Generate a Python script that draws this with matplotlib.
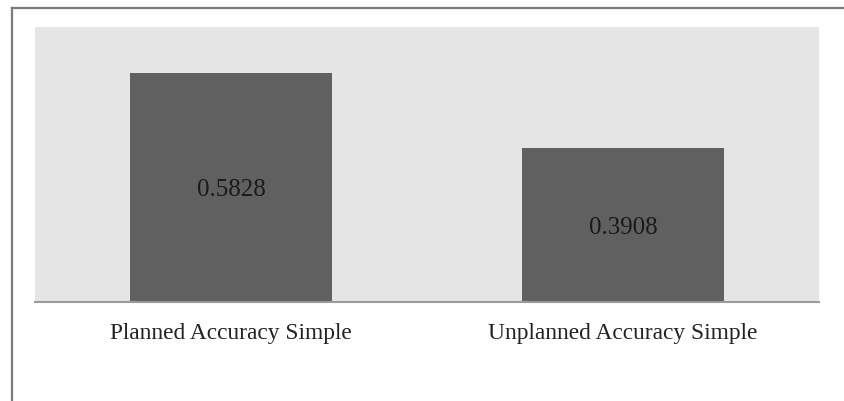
import matplotlib.pyplot as plt
from matplotlib.lines import Line2D

categories = ['Planned Accuracy Simple', 'Unplanned Accuracy Simple']
accuracy = [0.5828, 0.3908]
value_labels = ['0.5828', '0.3908']

plt.rcParams['font.family'] = ['Liberation Serif', 'DejaVu Serif']

W, H = 845, 401
fig = plt.figure(figsize=(W / 100, H / 100), dpi=100)
fig.patch.set_facecolor('white')

# plot area in pixel terms
left, right, top, bottom = 35, 819, 27, 302
ax = fig.add_axes([left / W, 1 - bottom / H, (right - left) / W, (bottom - top) / H])
ax.set_facecolor('#e5e5e5')

x = range(len(categories))
bars = ax.bar(x, accuracy, width=0.515, color='#606060', zorder=2)
for b, lab in zip(bars, value_labels):
    ax.text(b.get_x() + b.get_width() / 2, b.get_height() / 2 - 0.006, lab,
            ha='center', va='center', fontsize=18, color='#1a1a1a', zorder=3)

ax.set_xlim(-0.5, 1.5)
ax.set_ylim(0, 0.7)
ax.set_yticks([])
ax.set_xticks(list(x))
ax.set_xticklabels(categories, fontsize=16.8, color='#222222')
ax.tick_params(axis='x', length=0, pad=15)
for side in ['top', 'right', 'left']:
    ax.spines[side].set_visible(False)
ax.spines['bottom'].set_color('#9a9a9a')
ax.spines['bottom'].set_linewidth(1.5)

# outer frame, top and left edges only
fig.add_artist(Line2D([12 / W, 1], [1 - 8 / H, 1 - 8 / H], color='#7a7a7a', lw=1.6,
                      transform=fig.transFigure))
fig.add_artist(Line2D([12 / W, 12 / W], [0, 1 - 8 / H], color='#7a7a7a', lw=1.6,
                      transform=fig.transFigure))

fig.savefig('out.png', dpi=100)
